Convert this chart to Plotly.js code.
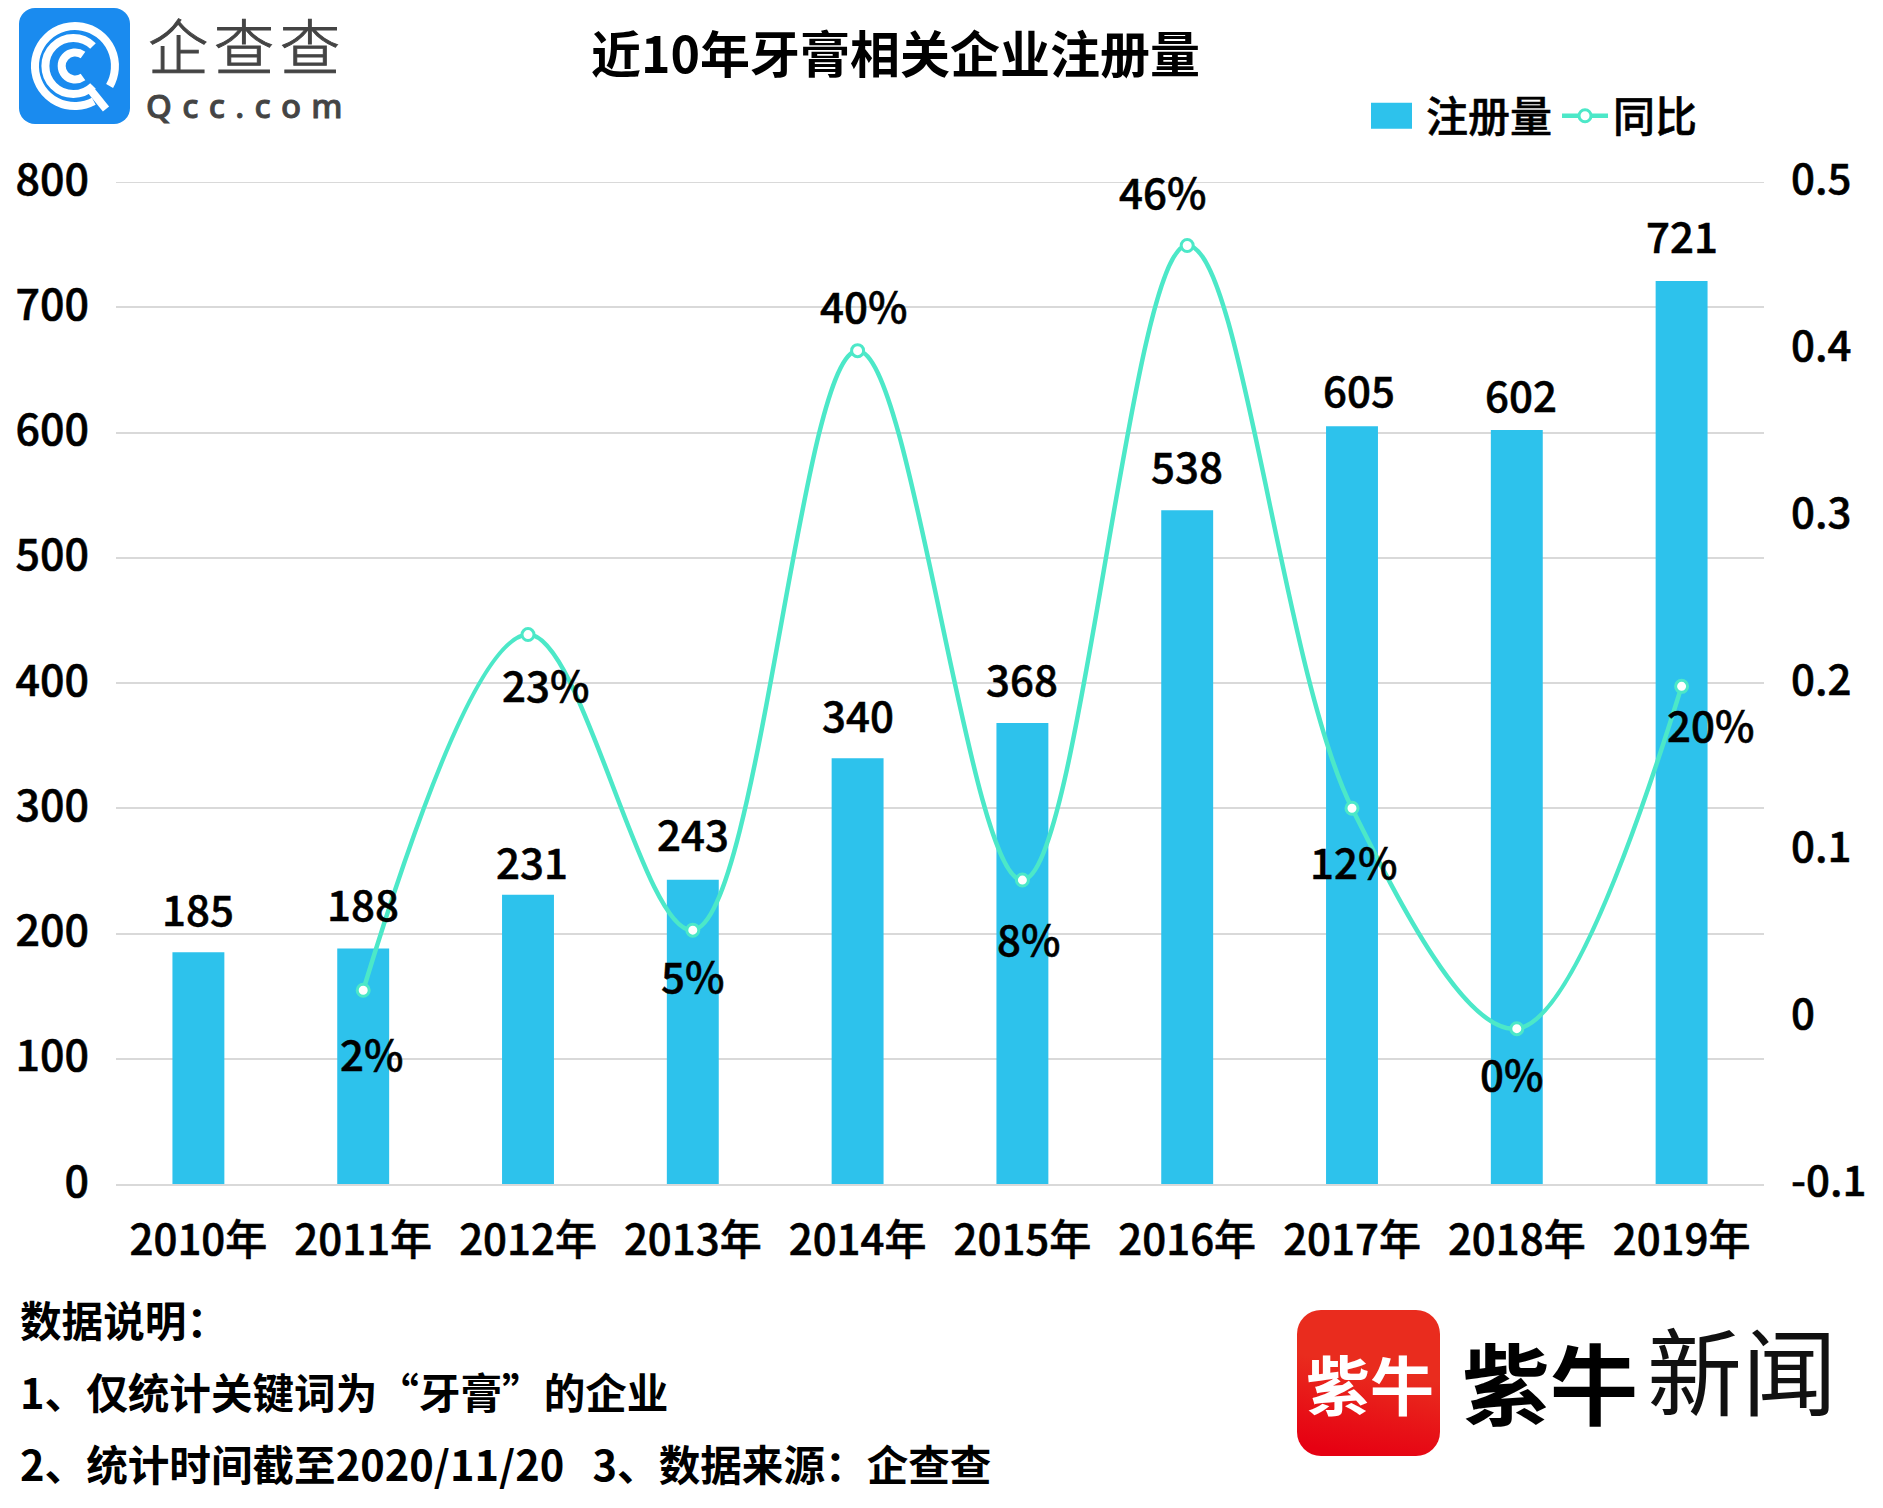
<!DOCTYPE html>
<html><head><meta charset="utf-8">
<script src="https://cdn.plot.ly/plotly-3.0.1.min.js"></script>
<style>html,body{margin:0;padding:0;background:#fff}
.annotation[data-index="0"] text{letter-spacing:10.3px;stroke:#444;stroke-width:.9px}
.annotation[data-index="1"] text{letter-spacing:6px;stroke:#444;stroke-width:1px}
.xtick text,.ytick text,.y2tick text,.annotation.lbl text,.legendtext{stroke:#000;stroke-width:.55px}
.ytick text,.y2tick text{translate:0 -2.5px}
</style></head>
<body><div id="chart" style="width:1883px;height:1508px"></div>
<script>
const categories=['2010年','2011年','2012年','2013年','2014年','2015年','2016年','2017年','2018年','2019年'];
const registrations=[185,188,231,243,340,368,538,605,602,721];
const barLabelDx=[0,0,4,0,0,0,0,7,4,0];
const barLabelDy=[45,46,34,47,45,46,46,38,37,46];
const yoyCategories=categories.slice(1);
const yoyValues=[0.016,0.229,0.052,0.399,0.082,0.462,0.125,-0.007,0.198];
const yoyLabels=['2%','23%','5%','40%','8%','46%','12%','0%','20%'];
const labelDx=[8,17,0,6,6,-25,1,-5,29];
const labelDy=[-62,-49,-44,46,-57,55,-52,-44,-37];
const y2Ticks=[-0.1,0,0.1,0.2,0.3,0.4,0.5];
const y2TickText=['-0.1','0','0.1','0.2','0.3','0.4','0.5'];
const yMax=800;
const notes=['数据说明：','1、仅统计关键词为“牙膏”的企业','2、统计时间截至2020/11/20 &nbsp;&nbsp;3、数据来源：企查查'];
const noteY=[1319,1391,1463];

const W=1883,H=1508,L=116,R=119,T=182,B=324;
const px=x=>(x-L)/(W-L-R), py=y=>1-(y-T)/(H-T-B);
const FF='"Noto Sans CJK SC","Noto Sans",sans-serif';
const f=(size,color='#000',weight=500)=>({family:FF,size,color,weight});
const paperText=(text,x,y,font,extra={})=>Object.assign({text,x:px(x),y:py(y),xref:'paper',yref:'paper',showarrow:false,font,xanchor:'left',yanchor:'middle'},extra);

const qccIcon='<svg xmlns="http://www.w3.org/2000/svg" viewBox="0 0 111 116"><rect width="111" height="116" rx="16" fill="#1a8bef"/><g fill="none" stroke="#fff" stroke-width="8"><path d="M90.6 78A40 40 0 1 0 74.8 93.3"/><path d="M74 38A28 28 0 1 0 74 78"/><path d="M64 47A13.5 13.5 0 1 0 64 69"/><path d="M70 80L87 101"/></g></svg>';
const redIcon='<svg xmlns="http://www.w3.org/2000/svg" viewBox="0 0 143 146"><defs><linearGradient id="g" x1="0.4" y1="1" x2="0.6" y2="0"><stop offset="0" stop-color="#e60012"/><stop offset="0.6" stop-color="#e92c1e"/></linearGradient></defs><rect width="143" height="146" rx="24" fill="url(#g)"/></svg>';
const uri=s=>'data:image/svg+xml;charset=utf-8,'+encodeURIComponent(s);

const annotations=[
 paperText('Qcc.com',180,105,{family:'"Noto Sans","DejaVu Sans",sans-serif',size:33,color:'#444',weight:500}),
 paperText('企查查',155,43,{family:FF,size:60,color:'#444',weight:300}),
 paperText('近10年牙膏相关企业注册量',895,51,f(50,'#000',700),{xanchor:'center'}),
 paperText('紫牛',1304,1382,f(64,'#fff',700)),
 paperText('紫牛',1460,1379,f(88,'#000',700)),
 paperText('新闻',1645,1367,f(95,'#111',400)),
 ...notes.map((t,i)=>paperText(t,18,noteY[i],f(41.6,'#000',700))),
 ...yoyCategories.map((c,i)=>({x:c,y:yoyValues[i],xref:'x',yref:'y2',text:yoyLabels[i],showarrow:false,font:f(42),xshift:labelDx[i],yshift:labelDy[i]})),
 ...categories.map((c,i)=>({x:c,y:registrations[i],xref:'x',yref:'y',text:String(registrations[i]),showarrow:false,font:f(42),xshift:barLabelDx[i],yshift:barLabelDy[i]}))
];

const data=[
 {type:'bar',name:'注册量',x:categories,y:registrations,width:0.315,marker:{color:'#2dc2ec'},hoverinfo:'x+y'},
 {type:'scatter',mode:'lines+markers',name:'同比',x:yoyCategories,y:yoyValues,yaxis:'y2',cliponaxis:false,
  line:{color:'#4ce8c8',width:4.5,shape:'spline',smoothing:1},
  marker:{size:12,color:'#fff',line:{color:'#4ce8c8',width:3}}}
];
const layout={
 width:W,height:H,margin:{l:L,r:R,t:T,b:B,pad:0},paper_bgcolor:'#fff',plot_bgcolor:'#fff',bargap:0.685,
 xaxis:{type:'category',range:[-0.5,9.5],categoryorder:'array',categoryarray:categories,tickfont:f(42),linecolor:'#d9d9d9',linewidth:2,showline:true,ticks:'',showgrid:false,zeroline:false,ticklabelstandoff:19,fixedrange:true},
 yaxis:{range:[0,yMax],dtick:100,tickfont:f(43),gridcolor:'#d9d9d9',gridwidth:2,zeroline:false,showline:false,ticks:'',ticklabelstandoff:26,fixedrange:true},
 yaxis2:{range:[-0.1,0.5],tickmode:'array',tickvals:y2Ticks,ticktext:y2TickText,overlaying:'y',side:'right',tickfont:f(42),showgrid:false,zeroline:false,showline:false,ticks:'',ticklabelstandoff:26,fixedrange:true},
 legend:{orientation:'h',x:px(1370),xanchor:'left',y:py(116),yanchor:'middle',font:f(42),bgcolor:'rgba(0,0,0,0)',itemwidth:46,traceorder:'normal'},
 shapes:[{type:'line',xref:'paper',yref:'y',x0:0,x1:1,y0:yMax,y1:yMax,line:{color:'#d9d9d9',width:2},layer:'below'}],
 annotations,
 images:[
  {source:uri(qccIcon),xref:'paper',yref:'paper',x:px(19),y:py(8),sizex:111/(W-L-R),sizey:116/(H-T-B),xanchor:'left',yanchor:'top',sizing:'stretch',layer:'above'},
  {source:uri(redIcon),xref:'paper',yref:'paper',x:px(1297),y:py(1310),sizex:143/(W-L-R),sizey:146/(H-T-B),xanchor:'left',yanchor:'top',sizing:'stretch',layer:'below'}
 ]
};
Plotly.newPlot('chart',data,layout,{displayModeBar:false,responsive:false}).then(gd=>{
  // enlarge the bar legend swatch to the reference's size
  const sw=gd.querySelector('.legend path.legendbar')||gd.querySelector('.legend .legendpoints path');
  if(sw) sw.setAttribute('d','M-27,-13H14V13H-27Z');
  // mark the data-label annotations so that they pick up the medium-weight stroke
  gd.querySelectorAll('.annotation').forEach((a,i)=>{ if(i>=9) a.classList.add('lbl'); });
});
</script></body></html>
